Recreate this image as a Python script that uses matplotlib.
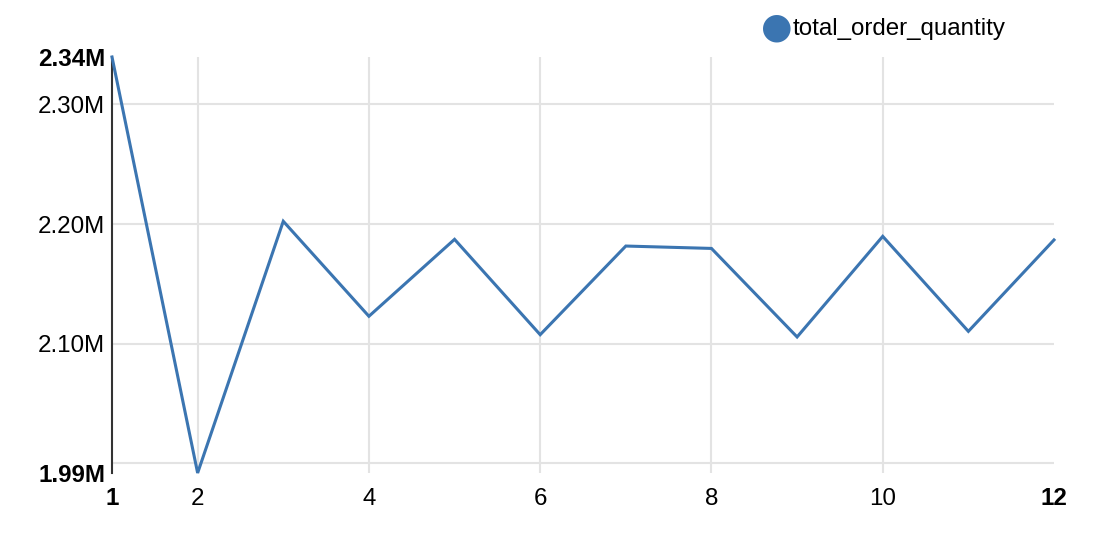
import matplotlib.pyplot as plt
from matplotlib.ticker import FuncFormatter

plt.rcParams['font.family'] = ['Liberation Sans', 'DejaVu Sans']

# monthly totals
months = [1, 2, 3, 4, 5, 6, 7, 8, 9, 10, 11, 12]
total_order_quantity = [2339600, 1991900, 2202300, 2122900, 2187200, 2107500,
                        2181600, 2179600, 2105600, 2189700, 2110300, 2186700]
grid_y = [2000000, 2100000, 2200000, 2300000]
grid_x = [2, 4, 6, 8, 10]

line_color = '#3b75b1'

fig = plt.figure(figsize=(11.1, 5.36), dpi=100)
ax = fig.add_axes([112 / 1110, 63 / 536, 942 / 1110, 416 / 536])

ax.plot(months, total_order_quantity, color=line_color, linewidth=2.2,
        solid_joinstyle='miter', zorder=3, clip_on=False)

ymin, ymax = min(total_order_quantity), max(total_order_quantity)
ax.set_xlim(months[0], months[-1])
ax.set_ylim(ymin, ymax)

# grid lines drawn by hand so they match the reference positions
for gy in grid_y:
    ax.axhline(gy, color='#e3e3e3', linewidth=1.5, zorder=1)
for gx in grid_x:
    ax.axvline(gx, color='#e3e3e3', linewidth=1.5, zorder=1)

yticks = [ymin, 2100000, 2200000, 2300000, ymax]
ax.set_yticks(yticks)
ax.yaxis.set_major_formatter(FuncFormatter(lambda v, p: f"{v / 1e6:.2f}M"))
xticks = [1, 2, 4, 6, 8, 10, 12]
ax.set_xticks(xticks)
ax.set_xticklabels([str(x) for x in xticks])

ax.tick_params(axis='both', length=0, labelsize=17.4, colors='black')
ax.tick_params(axis='y', pad=5)
ax.tick_params(axis='x', pad=23)

# bold labels at the extremes, all x labels on one baseline
ylabels = ax.get_yticklabels()
ylabels[0].set_fontweight('bold')
ylabels[-1].set_fontweight('bold')
xlabels = ax.get_xticklabels()
for lab in xlabels:
    lab.set_verticalalignment('baseline')
xlabels[0].set_fontweight('bold')
xlabels[-1].set_fontweight('bold')

for side in ['top', 'right', 'bottom']:
    ax.spines[side].set_visible(False)
ax.spines['left'].set_color('#333333')
ax.spines['left'].set_linewidth(1.5)

# legend at top right
fig.text(777 / 1110, 1 - 28 / 536, '\u25CF', color=line_color, fontsize=26,
         ha='center', va='center', family=['DejaVu Sans'])
fig.text(793 / 1110, 1 - 29 / 536, 'total_order_quantity', fontsize=17.4,
         ha='left', va='center')

fig.savefig('out.png', dpi=100)
